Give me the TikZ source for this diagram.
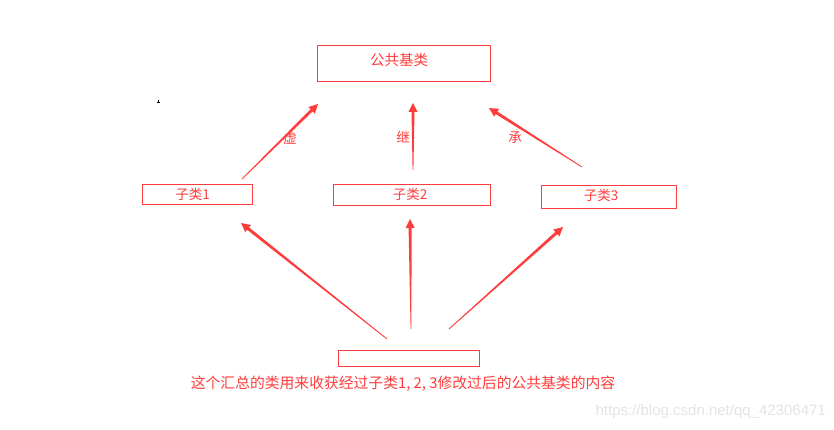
\documentclass[tikz,border=0pt]{standalone}
\usepackage{fontspec}
\newfontfamily\cjk{Noto Sans CJK SC}
\newfontfamily\wmfont{Liberation Sans}
\usetikzlibrary{calc}
\definecolor{arrowred}{RGB}{255,60,60}
\definecolor{wmgray}{RGB}{228,228,228}
\newcommand\taperarrow[2]{%
  \coordinate (tmpP) at ($(#2)!9pt!(#1)$);
  \fill[arrowred] ($(#1)!0.4pt!90:(#2)$) -- ($(tmpP)!1.5pt!-90:(#1)$) -- ($(tmpP)!4.6pt!-90:(#1)$) -- (#2)
    -- ($(tmpP)!4.6pt!90:(#1)$) -- ($(tmpP)!1.5pt!90:(#1)$) -- ($(#1)!0.4pt!-90:(#2)$) -- cycle;}
\begin{document}
\begin{tikzpicture}[x=1pt,y=-1pt,
  box/.style={draw=arrowred, line width=0.9pt, inner sep=0pt, text=arrowred, font=\cjk\fontsize{13}{15}\selectfont},
  lbl/.style={text=arrowred, inner sep=0pt, font=\cjk\fontsize{13.5}{15}\selectfont}]
\useasboundingbox (0,0) rectangle (834,430);
\fill[white] (0,0) rectangle (834,430);
% boxes
\node[box, minimum width=173pt, minimum height=36pt] (base) at (403.5,63) {};
\node[lbl, font=\cjk\fontsize{14.5}{16}\selectfont] (basetxt) at (399,60) {公共基类};
\node[box, minimum width=110pt, minimum height=20pt] (sub1) at (197,194) {};
\node[lbl] (sub1txt) at (192.5,194) {子类1};
\node[box, minimum width=157pt, minimum height=21pt] (sub2) at (411.5,194.5) {};
\node[lbl] (sub2txt) at (410,194.5) {子类2};
\node[box, minimum width=135pt, minimum height=23pt] (sub3) at (608.5,196.5) {};
\node[lbl] (sub3txt) at (601,195.5) {子类3};
\node[box, minimum width=141pt, minimum height=16pt] (bottom) at (408.5,358) {};
\node[lbl, font=\cjk\fontsize{14.8}{17}\selectfont] (note) at (403,384) {这个汇总的类用来收获经过子类1, 2, 3修改过后的公共基类的内容};
% edge labels
\node[lbl] (l1) at (290,138) {虚};
\node[lbl] (l2) at (403,137) {继};
\node[lbl] (l3) at (515,138) {承};
% arrow endpoints
\coordinate (a1s) at (242,179); \coordinate (a1e) at (318,104);
\coordinate (a2s) at (413,170); \coordinate (a2e) at (413,103);
\coordinate (a3s) at (582,167); \coordinate (a3e) at (489,108);
\coordinate (b1s) at (387,339); \coordinate (b1e) at (241,223);
\coordinate (b2s) at (411,329); \coordinate (b2e) at (410,219);
\coordinate (b3s) at (449,329); \coordinate (b3e) at (563,227);
\taperarrow{a1s}{a1e}
\taperarrow{a2s}{a2e}
\taperarrow{a3s}{a3e}
\taperarrow{b1s}{b1e}
\taperarrow{b2s}{b2e}
\taperarrow{b3s}{b3e}
% stray mark
\coordinate (dot) at (158,102);
\draw[black, line width=0.7pt] ($(dot)+(-1.5,0)$) -- ($(dot)+(1.5,0)$) ($(dot)+(0,-1.5)$) -- ($(dot)+(0,1.5)$);
% watermark
\node[text=wmgray, inner sep=0pt, anchor=east, font=\wmfont\fontsize{15}{17}\selectfont] (wm) at (826,412) {https://blog.csdn.net/qq\_42306471};
\end{tikzpicture}
\end{document}
